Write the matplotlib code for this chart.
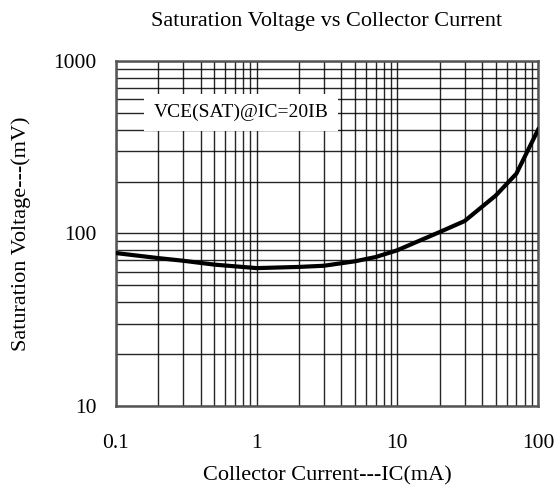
import matplotlib.pyplot as plt
import numpy as np
from matplotlib.ticker import LogLocator, FixedLocator, NullFormatter

plt.rcParams['font.family'] = ['Liberation Serif', 'DejaVu Serif']

# data
ic_ma = [0.1, 0.2, 0.3, 0.5, 1, 2, 3, 5, 7, 10, 20, 30, 50, 70, 100]
vce_mv = [77, 72, 69.5, 66, 63, 64, 65, 69, 73, 80, 102, 118, 166, 222, 400]

x_ticks = [0.1, 1, 10, 100]
x_labels = ['0.1', '1', '10', '100']
y_ticks = [10, 100, 1000]
y_labels = ['10', '100', '1000']

fig = plt.figure(figsize=(5.6, 4.91), dpi=100)
ax = fig.add_axes([0.207, 0.173, 0.754, 0.703])

ax.set_xscale('log')
ax.set_yscale('log')
ax.set_xlim(0.1, 100)
ax.set_ylim(10, 1000)

ax.plot(ic_ma, vce_mv, color='black', linewidth=3, zorder=5)

ax.xaxis.set_major_locator(FixedLocator(x_ticks))
ax.set_xticklabels(x_labels)
ax.yaxis.set_major_locator(FixedLocator(y_ticks))
ax.set_yticklabels(y_labels)
ax.xaxis.set_minor_locator(LogLocator(base=10, subs=np.arange(2, 10)))
ax.yaxis.set_minor_locator(LogLocator(base=10, subs=np.arange(2, 10)))
ax.xaxis.set_minor_formatter(NullFormatter())
ax.yaxis.set_minor_formatter(NullFormatter())

ax.grid(True, which='both', color='black', linewidth=1.0, alpha=0.85)
ax.tick_params(which='both', length=0, labelsize=15.5)
ax.tick_params(axis='x', pad=20)
ax.tick_params(axis='y', pad=14)

for sp in ax.spines.values():
    sp.set_color('#555555')
    sp.set_linewidth(1.8)

ax.text(0.185, 500, 'VCE(SAT)@IC=20IB', fontsize=14, ha='left', va='center',
        zorder=6, bbox=dict(facecolor='white', edgecolor='none', pad=7))

ax.set_title('Saturation Voltage vs Collector Current', fontsize=16, pad=25)
ax.set_xlabel('Collector Current---IC(mA)', fontsize=16, labelpad=10)
ax.set_ylabel('Saturation Voltage---(mV)', fontsize=16, labelpad=16)

plt.savefig('out.png', dpi=100)
